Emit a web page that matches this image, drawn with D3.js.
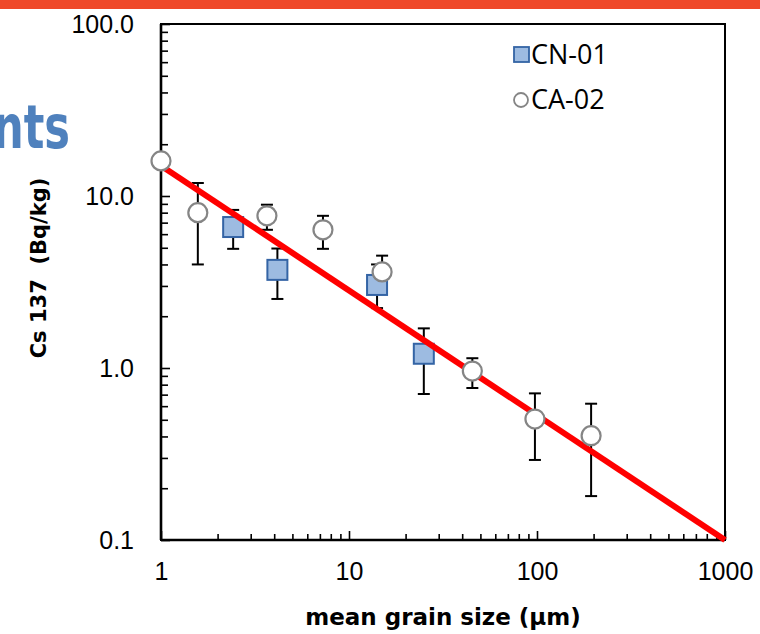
<!DOCTYPE html>
<html><head><meta charset="utf-8">
<script src="https://cdn.jsdelivr.net/npm/d3@7"></script>
<style>body{margin:0;background:#fff;overflow:hidden}</style>
</head><body>
<script>
// ---- data ----
const cnSize = [2.42, 4.16, 14.1, 25.0];
const cnValue = [6.6, 3.72, 3.04, 1.21];
const cnHigh = [8.3, 4.95, 4.0, 1.70];
const cnLow = [4.93, 2.52, 2.23, 0.706];

const caSize = [1.0, 1.57, 3.66, 7.27, 15.0, 45.3, 97.5, 194];
const caValue = [16.0, 8.0, 7.67, 6.36, 3.62, 0.96, 0.505, 0.404];
const caHigh = [null, 11.9, 8.9, 7.67, 4.5, 1.14, 0.712, 0.62];
const caLow = [null, 4.0, 6.36, 4.93, null, 0.765, 0.292, 0.18];

const fitX = [1, 1000];
const fitY = [15.0, 0.1];

const xTicks = [1, 10, 100, 1000];
const xTickLabels = ["1", "10", "100", "1000"];
const yTicks = [0.1, 1, 10, 100];
const yTickLabels = ["0.1", "1.0", "10.0", "100.0"];
const seriesNames = ["CN-01", "CA-02"];

const W = 760, H = 634;
const svg = d3.select("body").append("svg").attr("width", W).attr("height", H);

// slide background pieces
svg.append("rect").attr("x", 0).attr("y", 0).attr("width", W).attr("height", 9).attr("fill", "#ef4829");
svg.append("text").attr("x", 70).attr("y", 148).attr("text-anchor", "end")
  .attr("font-family", "DejaVu Sans").attr("font-weight", "bold").attr("font-size", 60)
  .attr("fill", "#4f81bd").attr("transform", "translate(70,148) scale(0.72,1) translate(-70,-148)").text("nts");

const L = 161, R = 725, T = 24, B = 540;
const x = d3.scaleLog().domain([1, 1000]).range([L, R]);
const y = d3.scaleLog().domain([0.1, 100]).range([B, T]);

// minor ticks
const minorX = [], minorY = [];
for (let d = 1; d < 1000; d *= 10) for (let k = 2; k <= 9; k++) minorX.push(d * k);
for (let d = 0.1; d < 100; d *= 10) for (let k = 2; k <= 9; k++) minorY.push(d * k);

const gx = svg.append("g").attr("transform", `translate(0,${B})`)
  .call(d3.axisBottom(x).tickValues(minorX).tickSize(-6).tickFormat(""));
const gx2 = svg.append("g").attr("transform", `translate(0,${B})`)
  .call(d3.axisBottom(x).tickValues(xTicks).tickSize(-9).tickFormat((d, i) => xTickLabels[i]).tickPadding(22));
const gy = svg.append("g").attr("transform", `translate(${L},0)`)
  .call(d3.axisLeft(y).tickValues(minorY).tickSize(-7).tickFormat(""));
const gy2 = svg.append("g").attr("transform", `translate(${L},0)`)
  .call(d3.axisLeft(y).tickValues(yTicks).tickSize(-9).tickFormat((d, i) => yTickLabels[i]).tickPadding(27));
[gx, gx2, gy, gy2].forEach(g => {
  g.select(".domain").remove();
  g.selectAll("line").attr("stroke", "#000").attr("stroke-width", 1.6);
  g.selectAll("text").attr("font-family", "Liberation Sans, Arial, sans-serif").attr("font-size", 25).attr("fill", "#000");
});
gx2.selectAll("text").attr("dy", "0.71em");
// frame
svg.append("rect").attr("x", L).attr("y", T).attr("width", R - L).attr("height", B - T)
  .attr("fill", "none").attr("stroke", "#000").attr("stroke-width", 2);
svg.append("line").attr("x1", L).attr("x2", L).attr("y1", T).attr("y2", B).attr("stroke", "#000").attr("stroke-width", 2.6);
svg.append("line").attr("x1", L).attr("x2", R).attr("y1", B).attr("y2", B).attr("stroke", "#000").attr("stroke-width", 2.6);

// error bars
function errBars(xs, hi, lo, vals) {
  xs.forEach((xv, i) => {
    const cx = x(xv);
    const top = hi[i] != null ? hi[i] : vals[i];
    const bot = lo[i] != null ? lo[i] : vals[i];
    svg.append("line").attr("x1", cx).attr("x2", cx).attr("y1", y(top)).attr("y2", y(bot)).attr("stroke", "#000").attr("stroke-width", 2);
    if (hi[i] != null) svg.append("line").attr("x1", cx - 6).attr("x2", cx + 6).attr("y1", y(hi[i])).attr("y2", y(hi[i])).attr("stroke", "#000").attr("stroke-width", 2);
    if (lo[i] != null) svg.append("line").attr("x1", cx - 6).attr("x2", cx + 6).attr("y1", y(lo[i])).attr("y2", y(lo[i])).attr("stroke", "#000").attr("stroke-width", 2);
  });
}
errBars(cnSize, cnHigh, cnLow, cnValue);
errBars(caSize, caHigh, caLow, caValue);

// squares
svg.selectAll(".sq").data(cnSize).enter().append("rect")
  .attr("x", (d) => x(d) - 10).attr("y", (d, i) => y(cnValue[i]) - 10)
  .attr("width", 20).attr("height", 20).attr("fill", "#9dbbe1").attr("stroke", "#3464a5").attr("stroke-width", 2);

// fit line
svg.append("line").attr("x1", x(fitX[0])).attr("y1", y(fitY[0])).attr("x2", x(fitX[1])).attr("y2", y(fitY[1]))
  .attr("stroke", "#ff0000").attr("stroke-width", 6);

// circles
svg.selectAll(".ci").data(caSize).enter().append("circle")
  .attr("cx", (d) => x(d)).attr("cy", (d, i) => y(caValue[i])).attr("r", 9.5)
  .attr("fill", "#fff").attr("stroke", "#858585").attr("stroke-width", 2.2);

// legend
svg.append("rect").attr("x", 514).attr("y", 47).attr("width", 15).attr("height", 15)
  .attr("fill", "#9dbbe1").attr("stroke", "#3464a5").attr("stroke-width", 1.8);
svg.append("circle").attr("cx", 521).attr("cy", 100).attr("r", 7).attr("fill", "#fff").attr("stroke", "#858585").attr("stroke-width", 1.8);
svg.append("text").attr("x", 531).attr("y", 64).attr("font-family", "Open Sans, sans-serif").attr("font-size", 27).text(seriesNames[0]);
svg.append("text").attr("x", 531).attr("y", 109).attr("font-family", "Open Sans, sans-serif").attr("font-size", 27).text(seriesNames[1]);

// axis titles
svg.append("text").attr("x", 443).attr("y", 625).attr("text-anchor", "middle")
  .attr("font-family", "DejaVu Sans").attr("font-weight", "bold").attr("font-size", 23).text("mean grain size (µm)");
svg.append("text").attr("transform", "translate(46,268) rotate(-90)").attr("text-anchor", "middle")
  .attr("font-family", "DejaVu Sans").attr("font-weight", "bold").attr("font-size", 21).attr("xml:space", "preserve").text("Cs 137  (Bq/kg)");
</script>
</body></html>
